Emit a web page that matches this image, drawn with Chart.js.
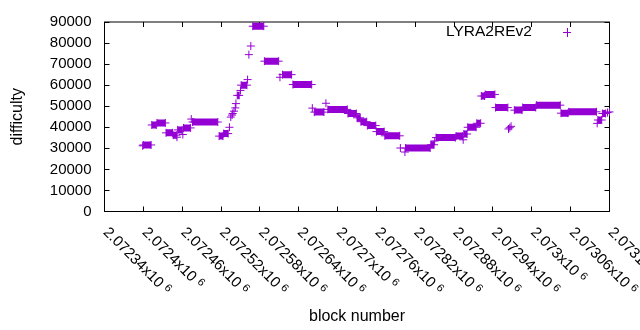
<!DOCTYPE html>
<html>
<head>
<meta charset="utf-8">
<script src="https://cdn.jsdelivr.net/npm/chart.js@4.4.0/dist/chart.umd.min.js"></script>
<style>
    html, body { margin: 0; padding: 0; background: #ffffff; }
    #wrap { width: 640px; height: 330px; }
</style>
</head>
<body>
<div id="wrap"><canvas id="diffChart" width="640" height="330"></canvas></div>
<script>
const runStart = [
    2072399, 2072400, 2072413, 2072421, 2072435, 2072446, 2072452, 2072453, 2072461, 2072462,
    2072474, 2072476, 2072517, 2072524, 2072533, 2072535, 2072537, 2072538, 2072540, 2072542,
    2072543, 2072545, 2072550, 2072551, 2072561, 2072563, 2072566, 2072569, 2072587, 2072611,
    2072615, 2072631, 2072661, 2072664, 2072682, 2072685, 2072716, 2072730, 2072736, 2072746,
    2072760, 2072773, 2072797, 2072804, 2072805, 2072844, 2072850, 2072852, 2072883, 2072894,
    2072895, 2072901, 2072915, 2072922, 2072928, 2072944, 2072964, 2072966, 2072968, 2072973,
    2072986, 2073007, 2073045, 2073057, 2073101, 2073102, 2073109, 2073117, 2073120
];
const runEnd = [
    2072399, 2072412, 2072420, 2072434, 2072445, 2072451, 2072452, 2072460, 2072461, 2072473,
    2072474, 2072515, 2072523, 2072531, 2072533, 2072535, 2072537, 2072538, 2072540, 2072542,
    2072543, 2072548, 2072550, 2072560, 2072561, 2072563, 2072566, 2072586, 2072609, 2072611,
    2072629, 2072660, 2072661, 2072679, 2072682, 2072715, 2072729, 2072735, 2072745, 2072759,
    2072772, 2072796, 2072797, 2072804, 2072843, 2072849, 2072850, 2072882, 2072893, 2072894,
    2072900, 2072914, 2072921, 2072927, 2072943, 2072963, 2072964, 2072966, 2072968, 2072985,
    2073006, 2073044, 2073056, 2073100, 2073101, 2073108, 2073114, 2073117, 2073120
];
const runDifficulty = [
    31200, 31600, 41100, 42050, 37350, 36250, 35300, 38750, 36550, 39700,
    43900, 42500, 35800, 37000, 40000, 44850, 45800, 46550, 47650, 49200,
    51250, 55150, 57500, 60000, 62650, 74500, 78600, 88000, 71400, 63750,
    65000, 60300, 49100, 47200, 51400, 48500, 46550, 44500, 42650, 40800,
    37950, 35950, 30150, 28250, 30150, 31700, 33500, 35100, 35800, 34050,
    36800, 40000, 41900, 54850, 55600, 49350, 39200, 39800, 40450, 48150,
    49400, 50500, 46700, 47350, 41850, 43450, 46550, 47000, 47300
];

const xTickLabels = [
    '2.07234', '2.0724', '2.07246', '2.07252', '2.07258', '2.07264', '2.0727',
    '2.07276', '2.07282', '2.07288', '2.07294', '2.073', '2.07306', '2.07312'
];
const yTickValues = [0, 10000, 20000, 30000, 40000, 50000, 60000, 70000, 80000, 90000];
const seriesLabel = 'LYRA2REv2';

const FONT = '"Liberation Sans", Arial, sans-serif';
const POINT_COLOR = '#9400d3';
const xTickValues = xTickLabels.map(t => Math.round(parseFloat(t) * 1e6));

function buildPoints() {
    const pts = [];
    runStart.forEach((start, i) => {
        pts.push({ x: start, y: runDifficulty[i] });
        if (runEnd[i] !== start) pts.push({ x: runEnd[i], y: runDifficulty[i] });
        pts.push({ x: runEnd[i], y: null }); // break the line between runs
    });
    return pts;
}

// gnuplot style frame, inward ticks, rotated x labels and key
const gnuplotLook = {
    id: 'gnuplotLook',
    beforeDatasetsDraw(chart) {
        const { ctx, chartArea: a, scales } = chart;
        ctx.save();
        ctx.strokeStyle = '#000';
        ctx.lineWidth = 1;
        ctx.strokeRect(a.left, a.top, a.right - a.left, a.bottom - a.top);
        ctx.beginPath();
        xTickValues.forEach(v => {
            const px = Math.floor(scales.x.getPixelForValue(v)) + 0.5;
            ctx.moveTo(px, a.bottom); ctx.lineTo(px, a.bottom - 5);
            ctx.moveTo(px, a.top); ctx.lineTo(px, a.top + 5);
        });
        yTickValues.forEach(v => {
            const py = Math.floor(scales.y.getPixelForValue(v)) + 0.5;
            ctx.moveTo(a.left, py); ctx.lineTo(a.left + 5, py);
            ctx.moveTo(a.right, py); ctx.lineTo(a.right - 5, py);
        });
        ctx.stroke();
        ctx.restore();
    },
    afterDraw(chart) {
        const { ctx, chartArea: a, scales } = chart;
        ctx.save();
        ctx.fillStyle = '#000';
        xTickLabels.forEach((label, i) => {
            const px = scales.x.getPixelForValue(xTickValues[i]);
            const main = label + 'x10';
            ctx.save();
            ctx.translate(px + 1, a.bottom + 18.5);
            ctx.rotate(Math.PI / 4);
            ctx.textAlign = 'left';
            ctx.textBaseline = 'middle';
            ctx.font = '15px ' + FONT;
            ctx.fillText(main, 0, 0);
            const w = ctx.measureText(main).width;
            ctx.font = '11px ' + FONT;
            ctx.fillText('6', w + 4, -3);
            ctx.restore();
        });

        // key
        ctx.font = '15.5px ' + FONT;
        ctx.textAlign = 'left';
        ctx.textBaseline = 'middle';
        ctx.fillText(seriesLabel, 446, 31.5);
        ctx.strokeStyle = POINT_COLOR;
        ctx.lineWidth = 1;
        ctx.beginPath();
        ctx.moveTo(563, 32.5); ctx.lineTo(571, 32.5);
        ctx.moveTo(567.5, 28); ctx.lineTo(567.5, 37);
        ctx.stroke();
        ctx.restore();
    }
};

function initDifficultyChart() {
    const ctx = document.getElementById('diffChart');
    return new Chart(ctx, {
        type: 'scatter',
        data: {
            datasets: [{
                label: seriesLabel,
                data: buildPoints(),
                showLine: true,
                spanGaps: false,
                borderColor: POINT_COLOR,
                borderWidth: 7,
                borderCapStyle: 'butt',
                pointStyle: 'cross',
                pointRadius: 4,
                pointHoverRadius: 4,
                pointBorderWidth: 1,
                pointBorderColor: POINT_COLOR,
                pointBackgroundColor: POINT_COLOR,
                clip: false
            }]
        },
        options: {
            responsive: false,
            animation: false,
            events: [],
            layout: {
                padding: { top: 19.5, right: 30.5, left: 0, bottom: 0 }
            },
            plugins: {
                legend: { display: false },
                tooltip: { enabled: false }
            },
            scales: {
                x: {
                    type: 'linear',
                    min: xTickValues[0],
                    max: xTickValues[xTickValues.length - 1],
                    afterBuildTicks: scale => { scale.ticks = xTickValues.map(v => ({ value: v })); },
                    afterFit: scale => { scale.height = 118.5; },
                    ticks: { display: false },
                    grid: { display: false, drawTicks: false },
                    border: { display: false },
                    title: {
                        display: true,
                        text: 'block number',
                        color: '#000',
                        font: { family: FONT, size: 16 },
                        padding: { top: 0, bottom: 4 }
                    }
                },
                y: {
                    min: 0,
                    max: 90000,
                    afterBuildTicks: scale => { scale.ticks = yTickValues.map(v => ({ value: v })); },
                    afterFit: scale => { scale.width = 104.5; },
                    ticks: {
                        color: '#000',
                        padding: 13,
                        font: { family: FONT, size: 15 },
                        callback: value => String(value)
                    },
                    grid: { display: false, drawTicks: false },
                    border: { display: false },
                    title: {
                        display: true,
                        text: 'difficulty',
                        color: '#000',
                        font: { family: FONT, size: 16 },
                        padding: { top: 8, bottom: 0 }
                    }
                }
            }
        },
        plugins: [gnuplotLook]
    });
}

initDifficultyChart();
</script>
</body>
</html>
